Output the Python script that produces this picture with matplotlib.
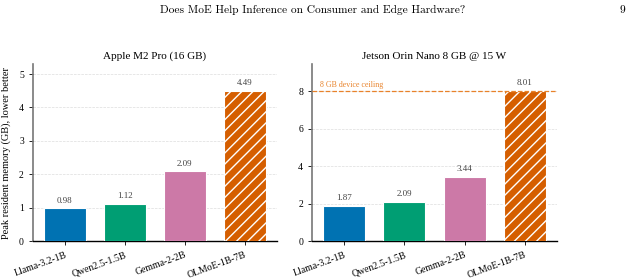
import numpy as np
import matplotlib.pyplot as plt

plt.rcParams['font.family'] = ['Liberation Serif', 'DejaVu Serif']
plt.rcParams['hatch.color'] = 'white'
plt.rcParams['hatch.linewidth'] = 1.0

models = ['Llama-3.2-1B', 'Qwen2.5-1.5B', 'Gemma-2-2B', 'OLMoE-1B-7B']
colors = ['#0072B2', '#009E73', '#CC79A7', '#D55E00']
mem_m2 = [0.98, 1.12, 2.09, 4.49]
mem_jetson = [1.87, 2.09, 3.44, 8.01]
titles = ['Apple M2 Pro (16 GB)', 'Jetson Orin Nano 8 GB @ 15 W']
yticks_m2 = [0, 1, 2, 3, 4, 5]
yticks_jetson = [0, 2, 4, 6, 8]
ceiling = 8

fig = plt.figure(figsize=(6.32, 2.80), dpi=100)
fig.text(0.495, 0.963, 'Does MoE Help Inference on Consumer and Edge Hardware?',
         ha='center', va='center', fontsize=8.2, family='cmr10')
fig.text(0.984, 0.963, '9', ha='center', va='center', fontsize=8.2, family='cmr10')

ax1 = fig.add_axes([0.052, 0.139, 0.386, 0.632])
ax2 = fig.add_axes([0.494, 0.139, 0.387, 0.632])

for ax, vals, title, yt in [(ax1, mem_m2, titles[0], yticks_m2),
                            (ax2, mem_jetson, titles[1], yticks_jetson)]:
    x = np.arange(len(models))
    bars = ax.bar(x, vals, width=0.7, color=colors, edgecolor='white', linewidth=0.8, zorder=3)
    bars[-1].set_hatch('///')
    for xi, v in zip(x, vals):
        ax.text(xi, v + max(vals) * 0.025, '%.2f' % v, ha='center', va='bottom',
                fontsize=6.5, color='#444444')
    ax.set_ylim(0, max(vals) * 1.18)
    ax.set_yticks(yt)
    ax.set_xticks(x)
    ax.set_xticklabels(models, rotation=20, ha='right', fontsize=7, rotation_mode='anchor')
    ax.tick_params(axis='y', labelsize=7, length=3, width=0.6)
    ax.tick_params(axis='x', length=3, width=0.6)
    ax.grid(axis='y', ls='--', lw=0.5, color='#dddddd', zorder=0)
    ax.spines['top'].set_visible(False)
    ax.spines['right'].set_visible(False)
    ax.spines['left'].set_color('#777777')
    ax.spines['left'].set_linewidth(1.2)
    ax.spines['bottom'].set_linewidth(1.0)
    ax.set_title(title, fontsize=8, pad=4)

ax1.set_ylabel('Peak resident memory (GB), lower better', fontsize=7.5, labelpad=6)
ax2.axhline(ceiling, ls='--', lw=0.9, color='#E8822A', zorder=4)
ax2.text(-0.4, ceiling + 0.1, '8 GB device ceiling', fontsize=5.7, color='#E8822A',
         ha='left', va='bottom')

plt.savefig('out.png', dpi=100)
